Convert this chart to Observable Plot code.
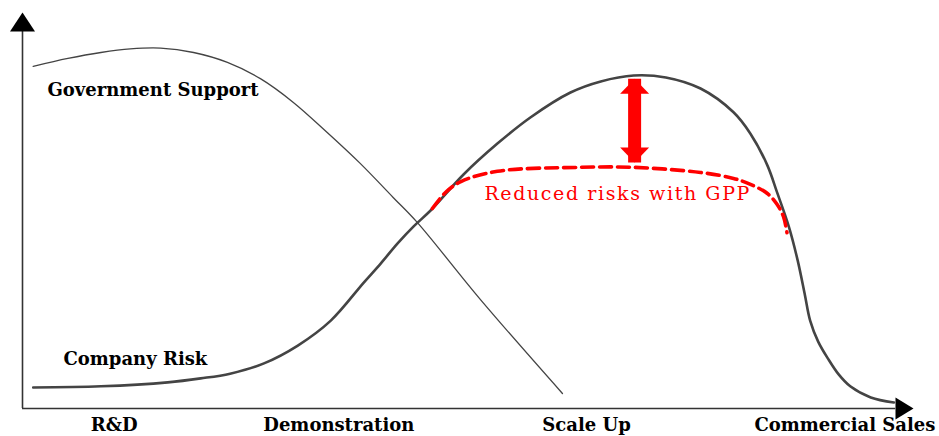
<!DOCTYPE html>
<html>
<head>
<meta charset="utf-8">
<script src="https://cdn.jsdelivr.net/npm/d3@7"></script>
<script src="https://cdn.jsdelivr.net/npm/@observablehq/plot@0.6"></script>
<style>
  html, body { margin: 0; padding: 0; background: #fff; }
  #chart svg { display: block; }
</style>
</head>
<body>
<div id="chart"></div>
<script>
// Stage axis (0–100) and relative level (0–100)
const stageNames = ["R&D", "Demonstration", "Scale Up", "Commercial Sales"];
const stagePos = [10.3, 35.5, 63.3, 92.3];

const companyRiskX = [1.2, 8.8, 16.3, 20.0, 23.3, 27.1, 30.9, 34.6, 38.3, 40.2, 42.1, 43.9, 45.8, 49.5, 53.3, 57.0, 61.5, 64.9, 68.6, 72.2, 76.1, 79.8, 81.7, 83.6, 84.7, 86.0, 87.0, 87.8, 88.4, 89.3, 90.4, 91.6, 92.9, 95.2, 97.8];
const companyRiskY = [5.3, 5.6, 6.6, 7.6, 8.8, 11.4, 15.9, 22.2, 31.8, 36.6, 41.7, 46.0, 50.0, 59.1, 66.9, 73.5, 79.8, 82.6, 84.1, 83.6, 80.8, 74.8, 69.4, 61.4, 54.5, 46.0, 37.4, 28.8, 22.2, 16.9, 12.6, 8.6, 5.6, 2.8, 1.5];

const govSupportX = [1.2, 5.1, 8.8, 12.1, 15.5, 19.2, 23.0, 26.7, 30.4, 34.2, 37.9, 41.6, 44.3, 51.4, 60.6];
const govSupportY = [86.4, 88.4, 89.9, 90.8, 91.0, 89.9, 87.4, 83.3, 77.3, 69.7, 61.9, 53.3, 47.0, 27.5, 3.8];

const gppX = [46.0, 47.5, 49.2, 53.3, 62.6, 68.6, 76.1, 79.8, 81.7, 83.6, 84.7, 85.4, 85.8];
const gppY = [50.5, 54.6, 57.3, 59.9, 60.9, 60.9, 59.6, 58.1, 56.6, 54.3, 51.5, 48.5, 44.4];

const gapX = 68.7;        // position of the "reduction" double arrow
const gapTop = 83.3;      // company risk peak
const gapBottom = 62.1;   // reduced risk level

const labelText = ["Government Support", "Company Risk"];
const labelX = [2.8, 4.6];
const labelY = [80.4, 12.4];

const gppLabel = ["Reduced risks with GPP"];
const gppLabelX = [66.8];
const gppLabelY = [54.3];

// ---------- helpers (styling only) ----------
const toPoints = (xs, ys) => xs.map((x, i) => ({x, y: ys[i]}));
function head(dir, w, l) {
  // filled triangular arrowhead with the tip at the origin
  return {draw(ctx) {
    if (dir === "up")    { ctx.moveTo(0, 0); ctx.lineTo(w, l); ctx.lineTo(-w, l); }
    if (dir === "down")  { ctx.moveTo(0, 0); ctx.lineTo(w, -l); ctx.lineTo(-w, -l); }
    if (dir === "right") { ctx.moveTo(0, 0); ctx.lineTo(-l, w); ctx.lineTo(-l, -w); }
    ctx.closePath();
  }};
}

const serif = "'DejaVu Serif', 'Liberation Serif', serif";

const plot = Plot.plot({
  width: 939,
  height: 436,
  marginTop: 12,
  marginLeft: 22,
  marginRight: 26,
  marginBottom: 28,
  x: {domain: [0, 100], axis: null},
  y: {domain: [0, 100], axis: null},
  style: {background: "#fff", fontFamily: serif},
  marks: [
    // axes
    Plot.ruleY([0], {x1: 0, x2: 98, stroke: "#333", strokeWidth: 1.6}),
    Plot.ruleX([0], {y1: 0, y2: 96, stroke: "#333", strokeWidth: 1.6}),
    Plot.dot([{x: 0, y: 100}], {x: "x", y: "y", symbol: head("up", 12.5, 19), fill: "#000", stroke: "none"}),
    Plot.dot([{x: 100, y: 0}], {x: "x", y: "y", symbol: head("right", 11, 18), fill: "#000", stroke: "none"}),
    // curves
    Plot.line(toPoints(govSupportX, govSupportY), {x: "x", y: "y", curve: "catmull-rom", stroke: "#444", strokeWidth: 1.3}),
    Plot.line(toPoints(companyRiskX, companyRiskY), {x: "x", y: "y", curve: "catmull-rom", stroke: "#444", strokeWidth: 2.6}),
    Plot.line(toPoints(gppX, gppY), {x: "x", y: "y", curve: "catmull-rom", stroke: "#ff0000", strokeWidth: 3.6, strokeDasharray: "12,6"}),
    // double arrow
    Plot.link([{x: gapX, y1: gapTop, y2: gapBottom}], {x1: "x", x2: "x", y1: "y1", y2: "y2", stroke: "#ff0000", strokeWidth: 13}),
    Plot.dot([{x: gapX, y: gapTop}], {x: "x", y: "y", symbol: head("up", 14.5, 15), fill: "#ff0000", stroke: "none"}),
    Plot.dot([{x: gapX, y: gapBottom}], {x: "x", y: "y", symbol: head("down", 14.5, 15), fill: "#ff0000", stroke: "none"}),
    // labels
    Plot.text(labelText, {x: (d, i) => labelX[i], y: (d, i) => labelY[i], text: d => d, textAnchor: "start", fontSize: 18, fontWeight: "bold", fill: "#000"}),
    Plot.text(gppLabel, {x: (d, i) => gppLabelX[i], y: (d, i) => gppLabelY[i], text: d => d, textAnchor: "middle", fontSize: 19, fill: "#ff0000"}),
    Plot.text(stageNames, {x: (d, i) => stagePos[i], y: -4.3, text: d => d, textAnchor: "middle", fontSize: 18, fontWeight: "bold", fill: "#000"})
  ]
});
// letter spacing for the red annotation (style only)
d3.select(plot).selectAll("text").filter(function () { return this.textContent === gppLabel[0]; }).style("letter-spacing", "1.6px");
document.getElementById("chart").appendChild(plot);
</script>
</body>
</html>
